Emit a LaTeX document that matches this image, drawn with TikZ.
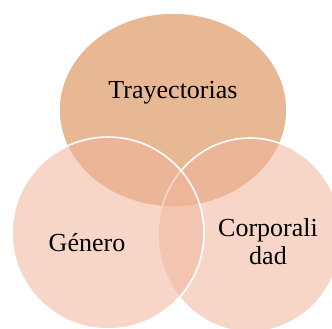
\documentclass[tikz,border=0pt]{standalone}
\usepackage{fontspec}
\setmainfont{Liberation Serif}
\usepackage{tikz}
\usetikzlibrary{positioning}

\definecolor{topfill}{RGB}{232,183,148}
\definecolor{lowfill}{RGB}{240,181,155}

\begin{document}
\begin{tikzpicture}[
  x=1pt, y=-1pt,
  lbl/.style={font=\fontsize{26}{28}\selectfont, inner sep=0pt, align=center},
  setshape/.style={draw=white, line width=1.6pt},
  lowset/.style={setshape, fill=lowfill, fill opacity=0.55}
]
  \useasboundingbox (0,0) rectangle (332,329);

  % upper set drawn first, the two lower ones on top of it
  \draw[setshape, fill=topfill] (173,110) ellipse [x radius=114, y radius=97];
  \draw[lowset] (250,235) ellipse [x radius=92, y radius=97];
  \draw[lowset] (108,233) ellipse [x radius=96, y radius=96];

  % labels
  \node[lbl, anchor=base] (tray) at (173,99) {Trayectorias};
  \node[lbl, anchor=base] (gen) at (87,251) {Género};
  \node[lbl] (corp) at (268,242) {Corporali\\dad};
\end{tikzpicture}
\end{document}
